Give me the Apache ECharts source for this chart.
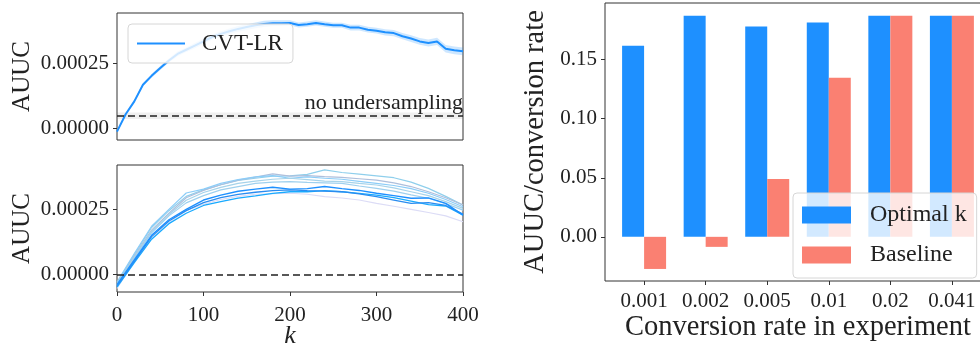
<!DOCTYPE html>
<html>
<head>
<meta charset="utf-8">
<script src="https://cdn.jsdelivr.net/npm/echarts@6/dist/echarts.min.js"></script>
<style>html,body{margin:0;background:#fff}#chart{width:980px;height:343px}</style>
</head>
<body>
<div id="chart"></div>
<script>
// top panel: CVT-LR mean AUUC and its spread, k step 10
const kTop = [0, 10, 20, 30, 40, 50, 60, 70, 80, 90, 100, 110, 120, 130, 140, 150, 160, 170, 180, 190, 200,
  210, 220, 230, 240, 250, 260, 270, 280, 290, 300, 310, 320, 330, 340, 350, 360, 370, 380, 390, 400];
const cvtMean = [-0.0000128, 0.0000538, 0.000103, 0.000167, 0.000201, 0.000231, 0.00026, 0.000285, 0.000301, 0.000317,
  0.000333, 0.00035, 0.000362, 0.000372, 0.000381, 0.000388, 0.000395, 0.0004, 0.000403, 0.000403,
  0.000404, 0.000396, 0.000399, 0.000404, 0.000399, 0.000395, 0.000395, 0.000386, 0.000386, 0.000378,
  0.000374, 0.000368, 0.000365, 0.000353, 0.000344, 0.000333, 0.000327, 0.000333, 0.000305, 0.000299, 0.000295];
const cvtStd = [0.000003, 0.000004, 0.000005, 0.000006, 0.000007, 0.000008, 0.000008, 0.000009, 0.000009, 0.00001,
  0.00001, 0.00001, 0.00001, 0.000011, 0.000011, 0.000011, 0.000011, 0.000012, 0.000011, 0.000011,
  0.00001, 0.00001, 0.00001, 0.00001, 0.00001, 0.00001, 0.00001, 0.000011, 0.000011, 0.000011,
  0.000011, 0.000012, 0.000012, 0.000012, 0.000013, 0.000013, 0.000013, 0.000014, 0.000014, 0.000015, 0.000015];
const noUnderMean = 0.000048;
const noUnderStd = 0.000012;

// bottom panel: individual runs, k step 20
const kBottom = [0, 20, 40, 60, 80, 100, 120, 140, 160, 180, 200, 220, 240, 260, 280, 300, 320, 340, 360, 380, 400];
const runLavender = [-0.000055, 0.00005, 0.00014, 0.0002, 0.000245, 0.00027, 0.000288, 0.0003, 0.000308, 0.00031, 0.000312,
  0.000308, 0.000299, 0.000294, 0.000286, 0.000273, 0.000262, 0.00025, 0.000238, 0.000225, 0.000202];
const runSky = [-0.000035, 0.000075, 0.00018, 0.000245, 0.0003, 0.000325, 0.000345, 0.000362, 0.00037, 0.000378, 0.000379,
  0.000385, 0.000402, 0.000392, 0.000386, 0.000379, 0.000372, 0.000355, 0.000331, 0.0003, 0.000267];
const runSteel = [-0.00004, 0.00007, 0.00017, 0.000235, 0.000295, 0.000323, 0.000345, 0.000363, 0.000374, 0.000387, 0.000378,
  0.00038, 0.000376, 0.000373, 0.000368, 0.000363, 0.000352, 0.000338, 0.000318, 0.000295, 0.000267];
const runLightSky = [-0.00003, 0.00008, 0.000185, 0.00025, 0.000313, 0.000328, 0.00035, 0.000365, 0.000375, 0.00038, 0.00037,
  0.000375, 0.00037, 0.000366, 0.000358, 0.00035, 0.000342, 0.00033, 0.000312, 0.000288, 0.00026];
const runLight = [-0.00004, 0.000065, 0.000165, 0.00023, 0.000285, 0.000315, 0.000335, 0.00035, 0.000359, 0.000366, 0.00037,
  0.000365, 0.000359, 0.000357, 0.00035, 0.000344, 0.000333, 0.000318, 0.000303, 0.00028, 0.000254];
const runPale = [-0.000045, 0.00006, 0.00016, 0.000225, 0.000275, 0.000303, 0.000325, 0.000338, 0.00035, 0.000355, 0.000357,
  0.000354, 0.000352, 0.00035, 0.00034, 0.000331, 0.00032, 0.000306, 0.000293, 0.000272, 0.000247];
const runDeep = [-0.00005, 0.000045, 0.000135, 0.000195, 0.000235, 0.000265, 0.00028, 0.000293, 0.000302, 0.000312, 0.000318,
  0.000318, 0.000322, 0.000318, 0.000312, 0.000305, 0.000295, 0.000282, 0.000268, 0.000263, 0.000228];
const runMid = [-0.000045, 0.00005, 0.000145, 0.000205, 0.000245, 0.000276, 0.000295, 0.000308, 0.000316, 0.000322, 0.000325,
  0.000322, 0.00032, 0.000318, 0.00031, 0.000299, 0.000286, 0.000273, 0.000276, 0.000265, 0.000232];
const runDodger = [-0.00004, 0.000055, 0.00015, 0.00021, 0.00025, 0.000286, 0.000305, 0.00032, 0.000328, 0.000335, 0.000328,
  0.00033, 0.000338, 0.00033, 0.000323, 0.000312, 0.000303, 0.000293, 0.000294, 0.000273, 0.000228];

// right panel: bars
const rateLabels = ['0.001', '0.002', '0.005', '0.01', '0.02', '0.041'];
const optimalK = [0.1619, 0.1873, 0.178, 0.1814, 0.1873, 0.1873];
const baseline = [-0.0272, -0.0085, 0.049, 0.1347, 0.1873, 0.1873];

const auucTicks = [0, 0.00025];
const kTicks = [0, 100, 200, 300, 400];
const barTicks = [0, 0.05, 0.1, 0.15];
const rateTicks = [0, 1, 2, 3, 4, 5];

const font = 'Liberation Serif';
const ink = '#222';
const frame = '#333';
const chart = echarts.init(document.getElementById('chart'));

const tickLabel = { fontFamily: font, fontSize: 21, color: ink };
const nameStyle = { fontFamily: font, fontSize: 26, color: ink };
const runs = [
  { data: runLavender, color: '#dcdcf6', width: 1.1 },
  { data: runSky, color: '#8fcfec', width: 1.2 },
  { data: runSteel, color: '#aebfdc', width: 1.2 },
  { data: runLightSky, color: '#8ccdf8', width: 1.2 },
  { data: runLight, color: '#a6d3ea', width: 1.2 },
  { data: runPale, color: '#9fd0ee', width: 1.2 },
  { data: runDeep, color: '#18aaff', width: 1.3 },
  { data: runMid, color: '#2a8cf0', width: 1.3 },
  { data: runDodger, color: '#1e90ff', width: 1.4 },
];

const gridBox = { show: true, borderColor: frame, borderWidth: 1, outerBoundsMode: 'none', containLabel: false };
const leftY = (grid, min, max) => ({
  gridIndex: grid, type: 'value', min, max,
  axisLine: { show: false, onZero: false }, splitLine: { show: false },
  axisTick: { customValues: auucTicks, length: 4, lineStyle: { color: frame } },
  axisLabel: { customValues: auucTicks, formatter: v => v.toFixed(5), margin: 8, ...tickLabel },
  name: 'AUUC', nameLocation: 'middle', nameGap: 82, nameTextStyle: { ...nameStyle, fontSize: 25 },
});

chart.setOption({
  animation: false,
  grid: [
    { left: 117, top: 13, width: 346, height: 127, ...gridBox },
    { left: 117, top: 165, width: 346, height: 127, ...gridBox },
    { left: 605, top: 3, width: 386, height: 278, ...gridBox },
  ],
  xAxis: [
    { gridIndex: 0, type: 'value', min: 0, max: 400, axisLine: { show: false, onZero: false }, axisTick: { show: false },
      axisLabel: { show: false }, splitLine: { show: false } },
    { gridIndex: 1, type: 'value', min: 0, max: 400, interval: 100, axisLine: { show: false, onZero: false }, splitLine: { show: false },
      axisTick: { customValues: kTicks, length: 4, lineStyle: { color: frame } },
      axisLabel: { customValues: kTicks, margin: 13, ...tickLabel },
      name: 'k', nameLocation: 'middle', nameGap: 31, nameMoveOverlap: false,
      nameTextStyle: { ...nameStyle, fontStyle: 'italic' } },
    { gridIndex: 2, type: 'value', min: -0.635, max: 5.635, axisLine: { show: false, onZero: false }, splitLine: { show: false },
      axisTick: { customValues: rateTicks, length: 4, lineStyle: { color: frame } },
      axisLabel: { customValues: rateTicks, formatter: v => rateLabels[v], margin: 10, ...tickLabel },
      name: 'Conversion rate in experiment', nameLocation: 'middle', nameGap: 32, nameMoveOverlap: false,
      nameTextStyle: { ...nameStyle, fontSize: 28.5 } },
  ],
  yAxis: [
    leftY(0, -0.000045, 0.000442),
    leftY(1, -0.0000684, 0.000421),
    { gridIndex: 2, type: 'value', min: -0.0374, max: 0.198, axisLine: { show: false, onZero: false }, splitLine: { show: false },
      axisTick: { customValues: barTicks, length: 4, lineStyle: { color: frame } },
      axisLabel: { customValues: barTicks, formatter: v => v.toFixed(2), margin: 8, ...tickLabel },
      name: 'AUUC/conversion rate', nameLocation: 'middle', nameGap: 55, nameTextStyle: { ...nameStyle, fontSize: 28.5 } },
  ],
  legend: [
    { data: ['CVT-LR'], left: 128, top: 24, icon: 'rect', itemWidth: 48, itemHeight: 2, selectedMode: false,
      padding: [7, 10, 7, 9], backgroundColor: 'rgba(255,255,255,0.8)', borderColor: '#d6d6d6', borderWidth: 1, borderRadius: 4,
      textStyle: { fontFamily: font, fontSize: 23, color: ink, lineHeight: 25, padding: [0, 0, 0, 12] } },
    { data: ['Optimal k', 'Baseline'], left: 793, top: 193, orient: 'vertical', icon: 'rect',
      itemWidth: 49, itemHeight: 17, itemGap: 16, selectedMode: false,
      padding: [10, 10, 11, 9], backgroundColor: 'rgba(255,255,255,0.8)', borderColor: '#d6d6d6', borderWidth: 1, borderRadius: 4,
      textStyle: { fontFamily: font, fontSize: 24, color: ink, lineHeight: 17, padding: [0, 0, 0, 14] } },
  ],
  series: [
    { type: 'custom', xAxisIndex: 0, yAxisIndex: 0, silent: true, data: [0],
      renderItem: (params, api) => {
        const upper = kTop.map((k, i) => api.coord([k, cvtMean[i] + cvtStd[i]]));
        const lower = kTop.map((k, i) => api.coord([k, cvtMean[i] - cvtStd[i]])).reverse();
        return { type: 'polygon', shape: { points: upper.concat(lower) }, style: { fill: 'rgba(30,144,255,0.22)' } };
      } },
    { name: 'CVT-LR', type: 'line', xAxisIndex: 0, yAxisIndex: 0, symbol: 'none', silent: true,
      color: '#1e90ff', lineStyle: { width: 2 }, data: kTop.map((k, i) => [k, cvtMean[i]]),
      markArea: { silent: true, itemStyle: { color: 'rgba(120,120,120,0.12)' },
        data: [[{ yAxis: noUnderMean - noUnderStd }, { yAxis: noUnderMean + noUnderStd }]] },
      markLine: { silent: true, symbol: 'none', precision: 8, data: [{ yAxis: noUnderMean }],
        lineStyle: { color: ink, type: [7, 4], width: 1.5 },
        label: { show: true, position: 'insideEndTop', formatter: 'no undersampling', distance: [0, 2],
          fontFamily: font, fontSize: 22, color: ink } } },
    ...runs.map((r, idx) => ({
      type: 'line', xAxisIndex: 1, yAxisIndex: 1, symbol: 'none', silent: true,
      color: r.color, lineStyle: { width: r.width }, data: kBottom.map((k, i) => [k, r.data[i]]),
      markLine: idx === runs.length - 1 ? { silent: true, symbol: 'none', data: [{ yAxis: 0 }], label: { show: false },
        lineStyle: { color: ink, type: [7, 4], width: 1.5 } } : undefined,
    })),
    { name: 'Optimal k', type: 'bar', xAxisIndex: 2, yAxisIndex: 2, barWidth: 22, barGap: '0%', silent: true,
      color: '#1e90ff', data: optimalK.map((v, i) => [i, v]) },
    { name: 'Baseline', type: 'bar', xAxisIndex: 2, yAxisIndex: 2, barWidth: 22, barGap: '0%', silent: true,
      color: '#fa8072', data: baseline.map((v, i) => [i, v]) },
  ],
});
</script>
</body>
</html>
